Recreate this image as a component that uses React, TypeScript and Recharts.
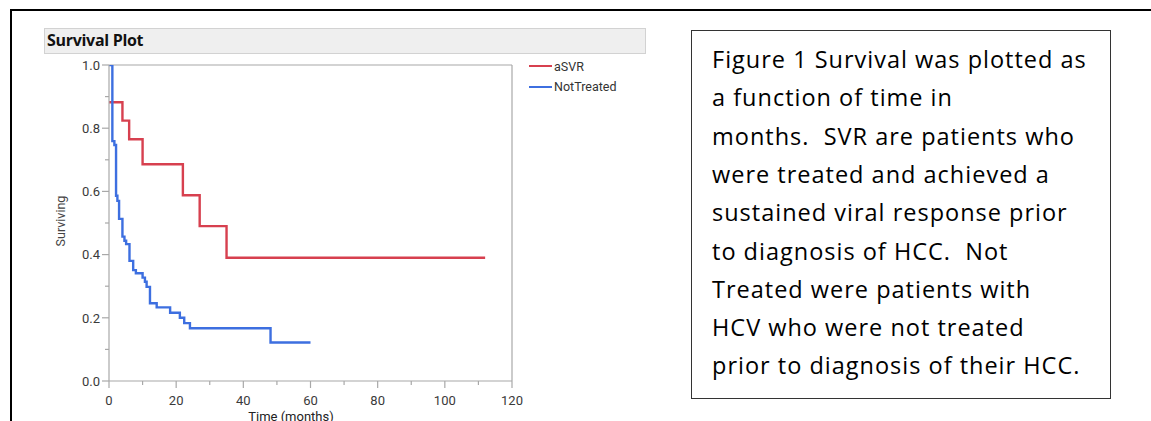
import React from 'react';
import { LineChart, Line, XAxis, YAxis, ReferenceLine } from 'recharts';

// ---- data ----
const aSvrTime = [0, 4, 6, 10, 22, 27, 35, 112];
const aSvrSurv = [0.882, 0.824, 0.765, 0.686, 0.588, 0.49, 0.39, 0.39];

const notTreatedTime = [0, 1, 1.6, 2.1, 2.5, 3, 4, 4.6, 5.1, 6.1, 7.2, 8, 10, 10.7, 11.2, 12.2, 14.2, 18.2, 21.1, 22.4, 24.1, 48.1, 60];
const notTreatedSurv = [1, 0.759, 0.747, 0.586, 0.57, 0.513, 0.457, 0.444, 0.433, 0.38, 0.351, 0.341, 0.327, 0.314, 0.298, 0.246, 0.233, 0.216, 0.2, 0.183, 0.167, 0.122, 0.122];

const xMajorTicks = [0, 20, 40, 60, 80, 100, 120];
const xMinorTicks = [10, 30, 50, 70, 90, 110];
const yMajorTicks = [0, 0.2, 0.4, 0.6, 0.8, 1.0];
const yMinorTicks = [0.1, 0.3, 0.5, 0.7, 0.9];

const seriesNames = ['aSVR', 'NotTreated'];
const seriesColors = ['#d7404f', '#3d6fe0'];

const captionLines = [
  'Figure 1 Survival was plotted as',
  'a function of time in',
  'months.  SVR are patients who',
  'were treated and achieved a',
  'sustained viral response prior',
  'to diagnosis of HCC.  Not',
  'Treated were patients with',
  'HCV who were not treated',
  'prior to diagnosis of their HCC.',
];

const aSvrData = aSvrTime.map((t, i) => ({ t, s: aSvrSurv[i] }));
const notTreatedData = notTreatedTime.map((t, i) => ({ t, s: notTreatedSurv[i] }));

const AXIS_COLOR = '#a8a8a8';
const TICK_TEXT = '#3a3a3a';
const TICK_FONT = 'Roboto, "Liberation Sans", sans-serif';

const isIn = (arr: number[], v: number) => arr.some((a) => Math.abs(a - v) < 1e-6);

const XTick = (props: any) => {
  const { x, y, payload } = props;
  const v = payload.value;
  const major = isIn(xMajorTicks, v);
  return (
    <g>
      <line x1={x} x2={x} y1={y} y2={y + (major ? 7 : 4)} stroke={AXIS_COLOR} strokeWidth={1.2} />
      {major && (
        <text x={x} y={y + 24} textAnchor="middle" fontSize={13} fontFamily={TICK_FONT} fill={TICK_TEXT}>
          {v}
        </text>
      )}
    </g>
  );
};

const YTick = (props: any) => {
  const { x, y, payload } = props;
  const v = payload.value;
  const major = isIn(yMajorTicks, v);
  return (
    <g>
      <line x1={x} x2={x - (major ? 7 : 4)} y1={y} y2={y} stroke={AXIS_COLOR} strokeWidth={1.2} />
      {major && (
        <text x={x - 9} y={y + 4.8} textAnchor="end" fontSize={13} fontFamily={TICK_FONT} fill={TICK_TEXT}>
          {v.toFixed(1)}
        </text>
      )}
    </g>
  );
};

export default function App() {
  return (
    <div style={{ position: 'absolute', left: 0, top: 0, width: 1151, height: 421, background: '#fff', overflow: 'hidden' }}>
      {/* outer frame */}
      <div style={{ position: 'absolute', left: 10, top: 9, width: 1141, height: 2, background: '#000' }} />
      <div style={{ position: 'absolute', left: 10, top: 9, width: 2, height: 412, background: '#000' }} />

      {/* title bar */}
      <div
        style={{
          position: 'absolute',
          left: 44,
          top: 28,
          width: 600,
          height: 24,
          background: '#efefef',
          border: '1px solid #d2d2d2',
        }}
      >
        <span
          style={{
            position: 'absolute',
            left: 2,
            top: 0,
            fontFamily: '"Open Sans", sans-serif',
            fontWeight: 700,
            fontSize: 16,
            lineHeight: '22px',
            letterSpacing: -0.3,
            color: '#111',
          }}
        >
          Survival Plot
        </span>
      </div>

      <div style={{ position: 'absolute', left: 0, top: 0 }}>
        <LineChart width={1151} height={421} margin={{ top: 65, left: 69, right: 639, bottom: 10 }}>
          <XAxis
            type="number"
            dataKey="t"
            domain={[0, 120]}
            ticks={[...xMajorTicks, ...xMinorTicks].sort((a, b) => a - b)}
            interval={0}
            tickSize={0}
            tickMargin={0}
            tickLine={false}
            tick={<XTick />}
            height={30}
            stroke={AXIS_COLOR}
            strokeWidth={1.2}
            allowDataOverflow
            label={{
              content: () => (
                <text x={291} y={420.5} textAnchor="middle" fontSize={13} fontFamily={TICK_FONT} fill="#222">
                  Time (months)
                </text>
              ),
            }}
          />
          <YAxis
            type="number"
            domain={[0, 1]}
            ticks={[...yMajorTicks, ...yMinorTicks].sort((a, b) => a - b)}
            interval={0}
            tickSize={0}
            tickMargin={0}
            tickLine={false}
            tick={<YTick />}
            width={40}
            stroke={AXIS_COLOR}
            strokeWidth={1.2}
            allowDataOverflow
            label={{
              content: () => (
                <text
                  x={65}
                  y={221}
                  transform="rotate(-90 65 221)"
                  textAnchor="middle"
                  fontSize={12.5}
                  fontFamily={TICK_FONT}
                  fill="#444"
                >
                  Surviving
                </text>
              ),
            }}
          />
          <ReferenceLine y={1} stroke={AXIS_COLOR} strokeWidth={1.2} />
          <ReferenceLine x={120} stroke={AXIS_COLOR} strokeWidth={1.2} />
          <Line
            data={aSvrData}
            dataKey="s"
            name={seriesNames[0]}
            type="stepAfter"
            stroke={seriesColors[0]}
            strokeWidth={2.4}
            dot={false}
            activeDot={false}
            isAnimationActive={false}
          />
          <Line
            data={notTreatedData}
            dataKey="s"
            name={seriesNames[1]}
            type="stepAfter"
            stroke={seriesColors[1]}
            strokeWidth={2.4}
            dot={false}
            activeDot={false}
            isAnimationActive={false}
          />
        </LineChart>
      </div>

      {/* legend */}
      <div style={{ position: 'absolute', left: 529, top: 56, fontFamily: TICK_FONT, fontSize: 12.5, color: '#333' }}>
        {seriesNames.map((n, i) => (
          <div key={n} style={{ display: 'flex', alignItems: 'center', height: 20.5 }}>
            <div style={{ width: 23, height: 2, background: seriesColors[i], marginRight: 2 }} />
            <span>{n}</span>
          </div>
        ))}
      </div>

      {/* caption box */}
      <div
        style={{
          position: 'absolute',
          left: 691,
          top: 30,
          width: 418,
          height: 367,
          border: '1.5px solid #333',
        }}
      >
        {captionLines.map((line, i) => (
          <div
            key={i}
            style={{
              position: 'absolute',
              left: 20,
              top: 13 + i * 38.3,
              fontFamily: '"Open Sans", sans-serif',
              fontSize: 23.5,
              lineHeight: '30px',
              letterSpacing: 1.0,
              whiteSpace: 'pre',
              color: '#000',
            }}
          >
            {line}
          </div>
        ))}
      </div>
    </div>
  );
}
